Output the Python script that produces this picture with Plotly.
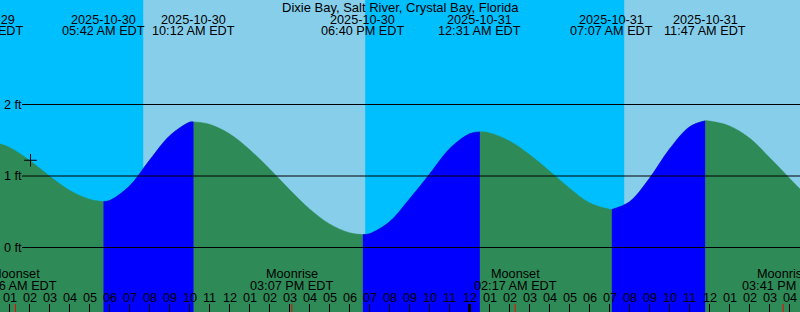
import plotly.graph_objects as go

# ---------------- data ----------------
# hours since 2025-10-30 00:00 EDT, tide height in feet
tide_hours = [0, 1, 2, 3, 4, 5, 5.7, 6, 7, 8, 9, 10, 10.2, 11, 12, 13, 14, 15, 16, 17, 18,
              18.667, 19, 20, 21, 22, 23, 24, 24.517, 25, 26, 27, 28, 29, 30, 31, 31.117,
              32, 33, 34, 35, 35.783, 36, 37, 38, 39, 40, 41]
tide_feet = [1.49, 1.40, 1.22, 1.00, 0.80, 0.675, 0.645, 0.657, 0.86, 1.22, 1.56, 1.752, 1.757,
             1.723, 1.59, 1.37, 1.10, 0.81, 0.54, 0.33, 0.206, 0.182, 0.193, 0.36, 0.68, 1.025,
             1.38, 1.59, 1.617, 1.603, 1.49, 1.30, 1.07, 0.83, 0.625, 0.535, 0.533, 0.639, 0.967,
             1.376, 1.687, 1.771, 1.768, 1.70, 1.53, 1.26, 0.97, 0.68]

# high / low tide events
event_hours = [-0.36, 5.7, 10.2, 18.667, 24.517, 31.117, 35.783]
event_feet = [1.50, 0.645, 1.757, 0.182, 1.617, 0.533, 1.771]
event_dates = ["2025-10-29", "2025-10-30", "2025-10-30", "2025-10-30",
               "2025-10-31", "2025-10-31", "2025-10-31"]
event_times = ["11:38 PM EDT", "05:42 AM EDT", "10:12 AM EDT", "06:40 PM EDT",
               "12:31 AM EDT", "07:07 AM EDT", "11:47 AM EDT"]

# moon events
moon_hours = [1.3, 15.117, 26.283, 39.683]
moon_names = ["Moonset", "Moonrise", "Moonset", "Moonrise"]
moon_times = ["01:16 AM EDT", "03:07 PM EDT", "02:17 AM EDT", "03:41 PM EDT"]

# daylight (sunrise, sunset)
day_start = [7.685, 31.735]
day_end = [18.785, 41.0]

# hour ticks
tick_hours = list(range(1, 41))
tick_labels = ["01", "02", "03", "04", "05", "06", "07", "08", "09", "10", "11", "12",
               "01", "02", "03", "04", "05", "06", "07", "08", "09", "10", "11", "12",
               "01", "02", "03", "04", "05", "06", "07", "08", "09", "10", "11", "12",
               "01", "02", "03", "04"]
midnight_hours = [24]

# level lines
level_values = [0, 1, 2]
level_labels = ["0 ft", "1 ft", "2 ft"]

# current-time marker
now_hours = [2.05]
now_feet = [1.22]

title_text = "Dixie Bay, Salt River, Crystal Bay, Florida"

# ---------------- styling ----------------
W, H = 800, 312
X0, X1 = 0.525, 40.525
Y0, Y1 = -0.902, 3.4615
NIGHT = "#00BFFF"
DAY = "#87CEEB"
EBB = "#2E8B57"
FLOOD = "#0000FF"
FONT = dict(family="Liberation Sans, Arial, sans-serif", size=12.7, color="black")


def py(pixel_y):
    return 1 - pixel_y / H


def xpaper(h):
    return (h - X0) / (X1 - X0)


fig = go.Figure()

# ebb (whole area) fill
fig.add_trace(go.Scatter(x=[tide_hours[0], tide_hours[-1]], y=[Y0 - 1, Y0 - 1],
                         mode="lines", line=dict(width=0), hoverinfo="skip"))
fig.add_trace(go.Scatter(x=tide_hours, y=tide_feet, mode="lines",
                         line=dict(shape="spline", color=EBB, width=0.5),
                         fill="tonexty", fillcolor=EBB, hoverinfo="skip"))

# flood (rising) fills
for i in range(len(event_hours) - 1):
    if event_feet[i + 1] > event_feet[i]:
        a, b = event_hours[i], event_hours[i + 1]
        xs = [t for t in tide_hours if a - 1e-9 <= t <= b + 1e-9]
        ys = [v for t, v in zip(tide_hours, tide_feet) if a - 1e-9 <= t <= b + 1e-9]
        fig.add_trace(go.Scatter(x=[a, b], y=[Y0 - 1, Y0 - 1], mode="lines",
                                 line=dict(width=0), hoverinfo="skip"))
        fig.add_trace(go.Scatter(x=xs, y=ys, mode="lines",
                                 line=dict(shape="spline", color=FLOOD, width=0.5),
                                 fill="tonexty", fillcolor=FLOOD, hoverinfo="skip"))

# current-time marker
fig.add_trace(go.Scatter(x=now_hours, y=now_feet, mode="markers",
                         marker=dict(symbol="cross-thin", size=9,
                                     line=dict(width=1, color="black")),
                         hoverinfo="skip"))

shapes = []
# daylight background
for s, e in zip(day_start, day_end):
    shapes.append(dict(type="rect", xref="x", yref="paper", x0=s, x1=e, y0=0, y1=1,
                       fillcolor=DAY, line=dict(width=0), layer="below"))
# level lines
for v in level_values:
    shapes.append(dict(type="line", xref="paper", yref="y", x0=22 / W, x1=1, y0=v, y1=v,
                       line=dict(color="black", width=1), layer="above"))
# hour ticks
for h in tick_hours:
    wdt = 3 if h in midnight_hours else 1
    shapes.append(dict(type="line", xref="x", yref="paper", x0=h, x1=h,
                       y0=0, y1=8 / H, line=dict(color="black", width=wdt), layer="above"))
# moon marks
for h in moon_hours:
    shapes.append(dict(type="line", xref="x", yref="paper", x0=h, x1=h,
                       y0=0, y1=8 / H, line=dict(color="red", width=1), layer="above"))

annotations = []


def ann(h, ypix, text, xref_axis=True):
    if xref_axis and X0 <= h <= X1:
        annotations.append(dict(x=h, xref="x", y=py(ypix), yref="paper", text=text,
                                showarrow=False, xanchor="center", yanchor="middle", font=FONT))
    else:
        annotations.append(dict(x=xpaper(h), xref="paper", y=py(ypix), yref="paper", text=text,
                                showarrow=False, xanchor="center", yanchor="middle", font=FONT))


annotations.append(dict(x=0.5, xref="paper", y=py(7.5), yref="paper", text=title_text,
                        showarrow=False, xanchor="center", yanchor="middle",
                        font=dict(FONT, size=13)))
for h, d, t in zip(event_hours, event_dates, event_times):
    ann(h, 19.5, d)
    ann(h, 31.3, t)
for h, n, t in zip(moon_hours, moon_names, moon_times):
    ann(h, 273.8, n)
    ann(h, 286.2, t)
for h, lab in zip(tick_hours, tick_labels):
    ann(h, 297.8, lab)
for v, lab in zip(level_values, level_labels):
    annotations.append(dict(x=2 / W, xref="paper", y=v, yref="y", text=lab, showarrow=False,
                            xanchor="left", yanchor="middle", font=FONT))

fig.update_layout(
    width=W, height=H, margin=dict(l=0, r=0, t=0, b=0, pad=0),
    plot_bgcolor=NIGHT, paper_bgcolor=NIGHT, showlegend=False,
    xaxis=dict(range=[X0, X1], visible=False, fixedrange=True),
    yaxis=dict(range=[Y0, Y1], visible=False, fixedrange=True),
    shapes=shapes, annotations=annotations,
)

fig.write_html("out.html")
